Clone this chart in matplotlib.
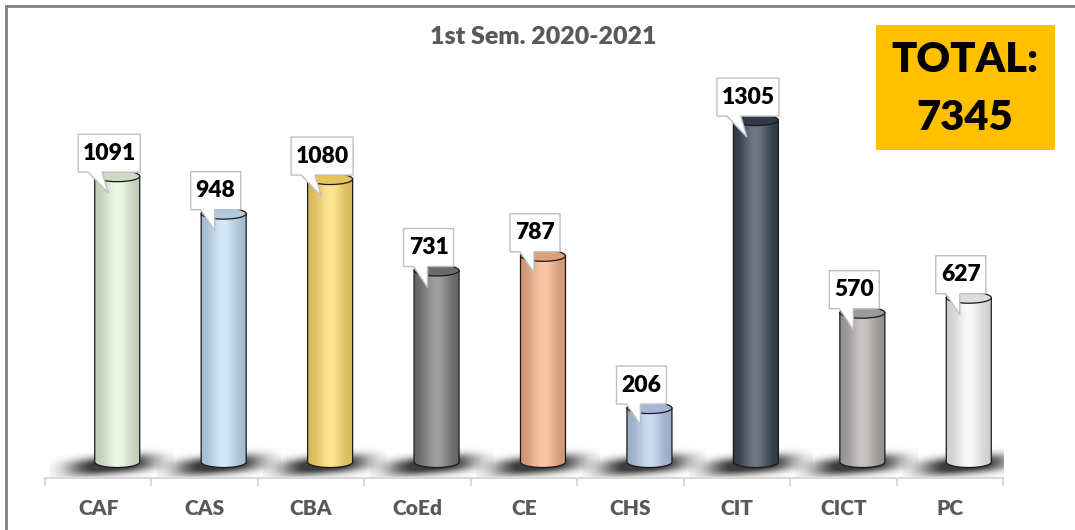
import matplotlib
matplotlib.use("Agg")
import matplotlib.pyplot as plt
import matplotlib.patches as mpatches
import matplotlib.transforms as mtransforms
from matplotlib.lines import Line2D
from matplotlib.path import Path
from matplotlib.colors import to_rgb
import numpy as np

plt.rcParams['font.family'] = ['Lato', 'DejaVu Sans']

# data
colleges = ["CAF", "CAS", "CBA", "CoEd", "CE", "CHS", "CIT", "CICT", "PC"]
enrolled = [1091, 948, 1080, 731, 787, 206, 1305, 570, 627]
bar_colors = ["#E4F3DA", "#C3DEF4", "#FFDA66", "#767676", "#F6B085",
              "#B6CAEB", "#343F51", "#AEAAAA", "#F6F6F6"]
title = "1st Sem. 2020-2021"
total = sum(enrolled)

W, H = 1075, 530
fig = plt.figure(figsize=(W / 100, H / 100), dpi=100)
fig.patch.set_facecolor("white")

# axes in pixel layout
ax_l, ax_b, ax_w, ax_h = 45, 52, 958, 458
ax = fig.add_axes([ax_l / W, ax_b / H, ax_w / W, ax_h / H])
ax.set_xlim(-0.5, len(colleges) - 0.5)
y0 = -61
y1 = y0 + ax_h / 0.262
ax.set_ylim(y0, y1)

upx = (len(colleges)) / ax_w      # x data units per pixel
upy = (y1 - y0) / ax_h            # y data units per pixel

bar_w = 45 * upx
bar_shift = 19 * upx
ry = 5.5 * upy

x = np.arange(len(colleges))
xc_all = x + bar_shift

# shadow blob
gu, gv = np.meshgrid(np.linspace(-1, 1, 160), np.linspace(-1, 1, 80))
gv2 = gv - 0.3 * gu
alpha = np.exp(-(np.abs(gu) / 0.7) ** 3 - (np.abs(gv2) / 0.5) ** 2.5)
alpha = np.clip(alpha * 1.1, 0, 0.95)
shadow = np.zeros(gu.shape + (4,))
shadow[..., :3] = 0.2
shadow[..., 3] = alpha

s = np.linspace(0, 1, 64)
prof = np.exp(-((s - 0.5) / 0.3) ** 2)

for xc, v, col in zip(xc_all, enrolled, bar_colors):
    base = np.array(to_rgb(col))
    x0, x1 = xc - bar_w / 2, xc + bar_w / 2

    sx, sy = xc - 5 * upx, -3 * upy
    ax.imshow(shadow, extent=[sx - 62 * upx, sx + 62 * upx, sy - 18 * upy, sy + 18 * upy],
              origin="lower", aspect="auto", zorder=1, interpolation="bilinear")

    # cylinder silhouette
    t1 = np.linspace(np.pi, 2 * np.pi, 40)
    t2 = np.linspace(0, np.pi, 40)
    bot = np.column_stack([xc + bar_w / 2 * np.cos(t1), ry * np.sin(t1)])
    top = np.column_stack([xc + bar_w / 2 * np.cos(t2), v + ry * np.sin(t2)])
    verts = np.vstack([[x0, v], bot, top, [x0, v]])
    body = mpatches.PathPatch(Path(verts, closed=True), facecolor="none",
                              edgecolor="none", transform=ax.transData)
    ax.add_patch(body)

    grad = base[None, :] * (0.83 + 0.17 * prof[:, None]) + \
        (1 - base[None, :]) * 0.3 * prof[:, None]
    grad = np.clip(grad, 0, 1)
    im = ax.imshow(grad[None, :, :], extent=[x0, x1, -ry, v + ry],
                   aspect="auto", zorder=2, interpolation="bilinear")
    im.set_clip_path(body)

    outline = np.vstack([[x0, v], bot, [x1, v]])
    ax.plot(outline[:, 0], outline[:, 1], color="#1a1a1a", lw=0.9, zorder=3)
    ax.add_patch(mpatches.Ellipse((xc, v), bar_w, 2 * ry,
                                  facecolor=np.clip(base * 0.9, 0, 1),
                                  edgecolor="#1a1a1a", lw=0.9, zorder=3))

    # callout label
    trans = mtransforms.Affine2D() + mtransforms.ScaledTranslation(xc, v, ax.transData)
    bw = 14 + 12 * len(str(v))
    L, R = -8 - bw / 2, -8 + bw / 2
    cv = [(L, 4), (L + 10, 4), (-9, -17), (L + 24, 4), (R, 4), (R, 42), (L, 42)]
    ax.add_patch(mpatches.Polygon(cv, closed=True, facecolor="white",
                                  edgecolor="#BFBFBF", lw=1, transform=trans,
                                  zorder=5, clip_on=False))
    ax.text(-8, 23, str(v), transform=trans, ha="center", va="center",
            fontsize=16.5, fontweight="heavy", color="black", zorder=6)

# axis styling
for sp in ["top", "left", "right"]:
    ax.spines[sp].set_visible(False)
ax.spines["bottom"].set_color("#D9D9D9")
ax.spines["bottom"].set_linewidth(1.5)
ax.set_yticks([])
ax.set_xticks(x)
ax.set_xticklabels(colleges, fontsize=15, fontweight="heavy", color="#595959")
ax.tick_params(axis="x", which="major", length=0, pad=15)
ax.set_xticks(np.arange(-0.5, len(colleges)), minor=True)
ax.tick_params(axis="x", which="minor", length=6, width=1.5, color="#D9D9D9")
ax.set_facecolor("none")

# title
fig.text(543 / W, 1 - 37 / H, title, ha="center", va="center",
         fontsize=18, fontweight="heavy", color="#595959")

# total box
fig.add_artist(mpatches.Rectangle((876 / W, 1 - 150 / H), 179 / W, 125 / H,
                                  transform=fig.transFigure, facecolor="#FFC000",
                                  edgecolor="none"))
fig.text(965 / W, 1 - 60 / H, "TOTAL:", ha="center", va="center",
         fontsize=30, fontweight="heavy", color="black")
fig.text(965 / W, 1 - 118 / H, str(total), ha="center", va="center",
         fontsize=30, fontweight="heavy", color="black")

# frame
fig.add_artist(Line2D([6 / W, 1], [1 - 6 / H, 1 - 6 / H], color="#7F7F7F", lw=2))
fig.add_artist(Line2D([6 / W, 6 / W], [0, 1 - 6 / H], color="#7F7F7F", lw=2))

fig.savefig("out.png", dpi=100)
